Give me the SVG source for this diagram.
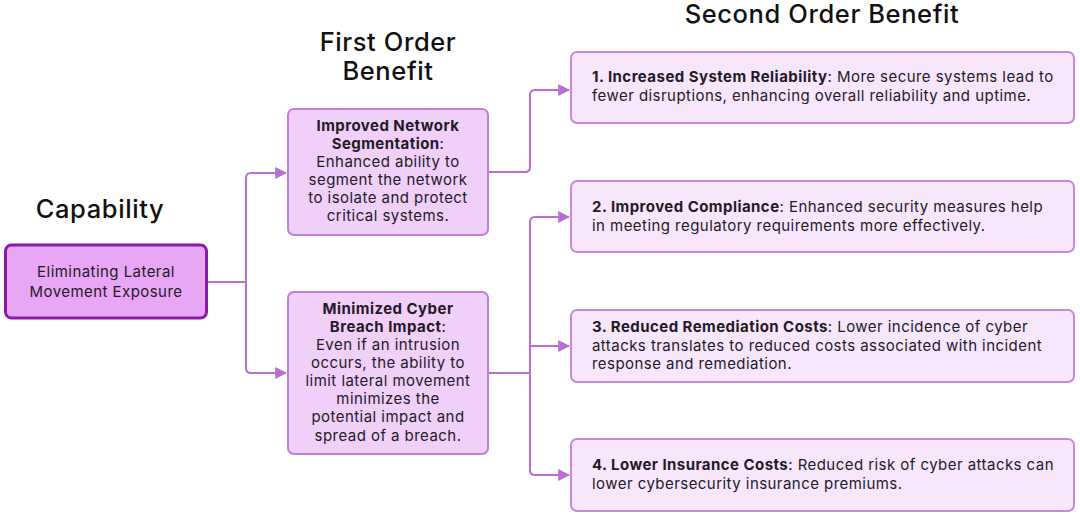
<svg xmlns="http://www.w3.org/2000/svg" width="1080" height="515" viewBox="0 0 1080 515">
<defs>
<marker id="arr" markerUnits="userSpaceOnUse" markerWidth="12" markerHeight="12" refX="9" refY="5" orient="auto" viewBox="0 0 10 10">
<path d="M0,0 L10,5 L0,10 Z" fill="#b86fd2"/>
</marker>
<style>
.hdr{font-family:Inter,"Noto Sans",sans-serif;font-size:25.5px;font-weight:500;letter-spacing:0.6px;fill:#111;text-anchor:middle}
.cap{fill:#e8a7f4;stroke:#8c19aa;stroke-width:3}
.fo{fill:#f0cff9;stroke:#c27fd8;stroke-width:2}
.so{fill:#f8e7fc;stroke:#c68ad9;stroke-width:2}
.t{font-family:Inter,"Noto Sans",sans-serif;font-size:15px;letter-spacing:0.45px;fill:#231a26}
.c{text-anchor:middle}
.b{font-weight:700}
.con{fill:none;stroke:#b86fd2;stroke-width:2}
</style>
</defs>
<rect width="1080" height="515" fill="#fff"/>
<text class="hdr" x="822" y="23">Second Order Benefit</text>
<text class="hdr" x="388" y="51">First Order</text>
<text class="hdr" x="388" y="80">Benefit</text>
<text class="hdr" x="100" y="218">Capability</text>

<g id="connectors">
<path class="con" d="M207,282 H246"/>
<path class="con" d="M246,282 V178 Q246,173 251,173 H286" marker-end="url(#arr)"/>
<path class="con" d="M246,282 V368 Q246,373 251,373 H286" marker-end="url(#arr)"/>
<path class="con" d="M488,172 H525 Q530,172 530,167 V95 Q530,90 535,90 H569" marker-end="url(#arr)"/>
<path class="con" d="M488,373 H530"/>
<path class="con" d="M530,373 V222 Q530,217 535,217 H569" marker-end="url(#arr)"/>
<path class="con" d="M530,346 H569" marker-end="url(#arr)"/>
<path class="con" d="M530,373 V470 Q530,475 535,475 H569" marker-end="url(#arr)"/>
</g>

<g id="capability">
<rect class="cap" x="5.5" y="245" width="201" height="73" rx="6"/>
<text class="t c" x="106" y="277" font-size="16">Eliminating Lateral</text>
<text class="t c" x="106" y="297" font-size="16">Movement Exposure</text>
</g>

<g id="fo1">
<rect class="fo" x="288" y="109" width="200" height="126" rx="6"/>
<text class="t c b" x="388" y="131">Improved Network</text>
<text class="t c" x="388" y="149"><tspan class="b">Segmentation</tspan>:</text>
<text class="t c" x="388" y="167">Enhanced ability to</text>
<text class="t c" x="388" y="185">segment the network</text>
<text class="t c" x="388" y="203">to isolate and protect</text>
<text class="t c" x="388" y="221">critical systems.</text>
</g>

<g id="fo2">
<rect class="fo" x="288" y="292" width="200" height="162" rx="6"/>
<text class="t c b" x="388" y="314">Minimized Cyber</text>
<text class="t c" x="388" y="332"><tspan class="b">Breach Impact</tspan>:</text>
<text class="t c" x="388" y="350">Even if an intrusion</text>
<text class="t c" x="388" y="368">occurs, the ability to</text>
<text class="t c" x="388" y="386">limit lateral movement</text>
<text class="t c" x="388" y="404">minimizes the</text>
<text class="t c" x="388" y="422">potential impact and</text>
<text class="t c" x="388" y="441">spread of a breach.</text>
</g>

<g id="so1">
<rect class="so" x="571" y="52" width="503" height="71" rx="6"/>
<text class="t" x="592" y="82"><tspan class="b">1. Increased System Reliability</tspan>: More secure systems lead to</text>
<text class="t" x="592" y="101">fewer disruptions, enhancing overall reliability and uptime.</text>
</g>

<g id="so2">
<rect class="so" x="571" y="181" width="503" height="71" rx="6"/>
<text class="t" x="592" y="212"><tspan class="b">2. Improved Compliance</tspan>: Enhanced security measures help</text>
<text class="t" x="592" y="231">in meeting regulatory requirements more effectively.</text>
</g>

<g id="so3">
<rect class="so" x="571" y="310" width="503" height="72" rx="6"/>
<text class="t" x="592" y="332"><tspan class="b">3. Reduced Remediation Costs</tspan>: Lower incidence of cyber</text>
<text class="t" x="592" y="351">attacks translates to reduced costs associated with incident</text>
<text class="t" x="592" y="369">response and remediation.</text>
</g>

<g id="so4">
<rect class="so" x="571" y="439" width="503" height="72" rx="6"/>
<text class="t" x="592" y="470"><tspan class="b">4. Lower Insurance Costs</tspan>: Reduced risk of cyber attacks can</text>
<text class="t" x="592" y="489">lower cybersecurity insurance premiums.</text>
</g>
</svg>
